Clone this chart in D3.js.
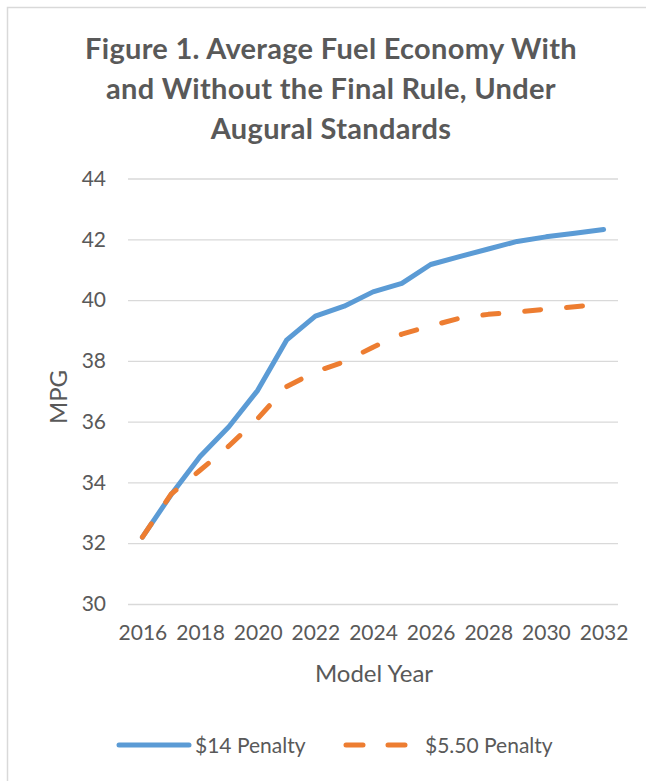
<!DOCTYPE html>
<html>
<head>
<meta charset="utf-8">
<script src="https://cdn.jsdelivr.net/npm/d3@7"></script>
<style>
  body { margin: 0; background: #fff; }
  svg { display: block; font-family: Lato, 'Open Sans', sans-serif; }
  .tick text { fill: #595959; }
</style>
</head>
<body>
<div id="chart"></div>
<script>
// values
let years = d3.range(2016, 2033)
let tickYears = [2016, 2018, 2020, 2022, 2024, 2026, 2028, 2030, 2032]
let penalty14 = [32.2, 33.6, 34.85, 35.83, 37.03, 38.68, 39.47, 39.8, 40.27, 40.55, 41.17, 41.43, 41.68, 41.93, 42.08, 42.2, 42.32]
let penalty550 = [32.2, 33.62, 34.4, 35.2, 36.1, 37.15, 37.64, 37.97, 38.45, 38.88, 39.15, 39.4, 39.53, 39.61, 39.7, 39.78, 39.88]
let yTicks = [30, 32, 34, 36, 38, 40, 42, 44]
let titleLines = ['Figure 1. Average Fuel Economy With', 'and Without the Final Rule, Under', 'Augural Standards']
let seriesNames = ['$14 Penalty', '$5.50 Penalty']

let width = 646
let height = 781
let margin = { top: 178.5, right: 28, bottom: 177, left: 128 }
let textColor = '#595959'
let gridColor = '#D9D9D9'
let blue = '#5B9BD5'
let orange = '#ED7D31'

let svg = d3.select('#chart')
  .append('svg')
  .attr('width', width)
  .attr('height', height)

// chart area border
svg.append('rect')
  .attr('x', 7.5)
  .attr('y', 7.5)
  .attr('width', width + 20)
  .attr('height', height + 20)
  .attr('fill', '#fff')
  .attr('stroke', gridColor)
  .attr('stroke-width', 1.5)

// title
svg.append('g')
  .selectAll('text')
  .data(titleLines)
  .enter().append('text')
  .attr('x', 331)
  .attr('y', (d, i) => 58.5 + i * 40)
  .attr('text-anchor', 'middle')
  .attr('font-size', 29)
  .attr('letter-spacing', 0.3)
  .attr('font-weight', 700)
  .attr('fill', textColor)
  .text((d) => d)

let x = d3.scalePoint()
  .domain(years)
  .range([margin.left, width - margin.right])
  .padding(0.5)

let y = d3.scaleLinear()
  .domain([30, 44])
  .range([height - margin.bottom, margin.top])

// gridlines + y labels
let yAxis = svg.append('g')
  .attr('transform', 'translate(' + margin.left + ',0)')
  .call(d3.axisLeft(y).tickValues(yTicks).tickSize(-(width - margin.right - margin.left)).tickPadding(22))

yAxis.select('.domain').remove()
yAxis.selectAll('.tick line')
  .attr('stroke', gridColor)
  .attr('stroke-width', 1.3)
yAxis.selectAll('.tick text')
  .attr('font-size', 21)
  .attr('font-family', 'Lato')

// x labels
let xAxis = svg.append('g')
  .attr('transform', 'translate(0,' + (height - margin.bottom) + ')')
  .call(d3.axisBottom(x).tickValues(tickYears).tickSize(0).tickPadding(21))

xAxis.select('.domain').remove()
xAxis.selectAll('.tick text')
  .attr('font-size', 21)
  .attr('font-family', 'Lato')

// axis titles
svg.append('text')
  .attr('transform', 'translate(67,397)rotate(-90)')
  .attr('text-anchor', 'middle')
  .attr('font-size', 24)
  .attr('fill', textColor)
  .text('MPG')

svg.append('text')
  .attr('x', 374)
  .attr('y', 682)
  .attr('text-anchor', 'middle')
  .attr('font-size', 24)
  .attr('fill', textColor)
  .text('Model Year')

// lines
let line = d3.line()
  .x((d, i) => x(years[i]))
  .y((d) => y(d))

svg.append('path')
  .datum(penalty14)
  .attr('d', line)
  .attr('fill', 'none')
  .attr('stroke', blue)
  .attr('stroke-width', 5)
  .attr('stroke-linejoin', 'round')
  .attr('stroke-linecap', 'round')

svg.append('path')
  .datum(penalty550)
  .attr('d', line)
  .attr('fill', 'none')
  .attr('stroke', orange)
  .attr('stroke-width', 5)
  .attr('stroke-dasharray', '16,26')
  .attr('stroke-linejoin', 'round')
  .attr('stroke-linecap', 'round')

// legend
let legendY = 745
let legend = svg.append('g')

legend.append('line')
  .attr('x1', 119).attr('x2', 189)
  .attr('y1', legendY).attr('y2', legendY)
  .attr('stroke', blue)
  .attr('stroke-width', 5)
  .attr('stroke-linecap', 'round')

legend.append('text')
  .attr('x', 195)
  .attr('y', legendY + 7.5)
  .attr('font-size', 21)
  .attr('fill', textColor)
  .text(seriesNames[0])

legend.append('line')
  .attr('x1', 346).attr('x2', 414)
  .attr('y1', legendY).attr('y2', legendY)
  .attr('stroke', orange)
  .attr('stroke-width', 5)
  .attr('stroke-dasharray', '17,25')
  .attr('stroke-linecap', 'round')

legend.append('text')
  .attr('x', 425)
  .attr('y', legendY + 7.5)
  .attr('font-size', 21)
  .attr('fill', textColor)
  .text(seriesNames[1])
</script>
</body>
</html>
